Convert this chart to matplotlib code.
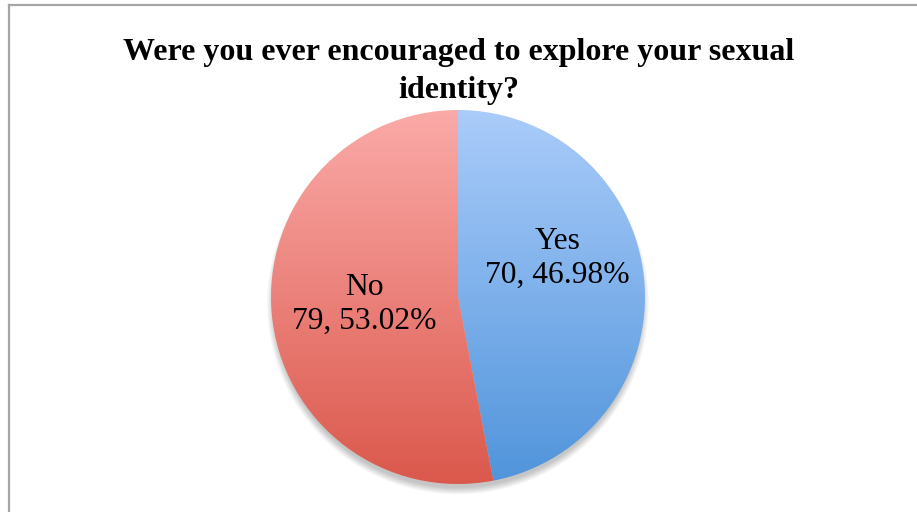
import numpy as np
import matplotlib
matplotlib.use("Agg")
import matplotlib.pyplot as plt
from matplotlib.colors import LinearSegmentedColormap
from matplotlib.patches import Circle
from matplotlib.lines import Line2D

# Survey responses
categories = ["Yes", "No"]
counts = [70, 79]
percents = [46.98, 53.02]
title = "Were you ever encouraged to explore your sexual\nidentity?"

# Vertical gradient (top colour, bottom colour) per slice
gradients = {
    "Yes": ("#AACCFA", "#5094DB"),
    "No": ("#FBAAA8", "#DB584C"),
}

W, H = 917, 512
fig = plt.figure(figsize=(W / 100, H / 100), dpi=100)
fig.patch.set_facecolor("white")

# Chart-area border (left and top edges visible)
fig.add_artist(Line2D([8.5 / W, 8.5 / W], [0, 1 - 4.5 / H], transform=fig.transFigure,
                      color="#A6A6A6", lw=1.6))
fig.add_artist(Line2D([8.5 / W, 1], [1 - 4.5 / H, 1 - 4.5 / H], transform=fig.transFigure,
                      color="#A6A6A6", lw=1.6))

# Pie axes: centre (458, 297) px from top, radius 187 px
cx, cy, r = 458, H - 297, 187
pad = 1.15
ax = fig.add_axes([(cx - r * pad) / W, (cy - r * pad) / H, 2 * r * pad / W, 2 * r * pad / H])
ax.set_aspect("equal")
ax.axis("off")

# Soft drop shadow beneath the pie
for i in range(10):
    ax.add_patch(Circle((0, -0.035), 0.985 + 0.004 * i, facecolor="black",
                        edgecolor="none", alpha=0.025, zorder=0))

wedges, _ = ax.pie(counts, startangle=90, counterclock=False, radius=1.0,
                   wedgeprops=dict(edgecolor="none", linewidth=0))

grad = np.linspace(0, 1, 256).reshape(-1, 1)
for w, cat in zip(wedges, categories):
    w.set_facecolor("none")
    top, bottom = gradients[cat]
    cmap = LinearSegmentedColormap.from_list(cat, [top, bottom])
    im = ax.imshow(grad, cmap=cmap, extent=(-1, 1, -1, 1), origin="upper",
                   aspect="auto", zorder=2, interpolation="bilinear")
    im.set_clip_path(w)

ax.set_xlim(-pad, pad)
ax.set_ylim(-pad, pad)

# Data labels
label_pos = {"Yes": (0.53, 0.205), "No": (-0.50, -0.04)}
for cat, n, p in zip(categories, counts, percents):
    x, y = label_pos[cat]
    ax.text(x, y, f"{cat}\n{n}, {p:.2f}%", ha="center", va="center",
            fontsize=22.7, family="Liberation Serif", linespacing=1.22, zorder=5)

fig.text(0.5, 1 - 71.5 / H, title, ha="center", va="center", fontsize=23,
         fontweight="bold", family="Liberation Serif", linespacing=1.38)

fig.savefig("out.png", dpi=100, facecolor="white")
